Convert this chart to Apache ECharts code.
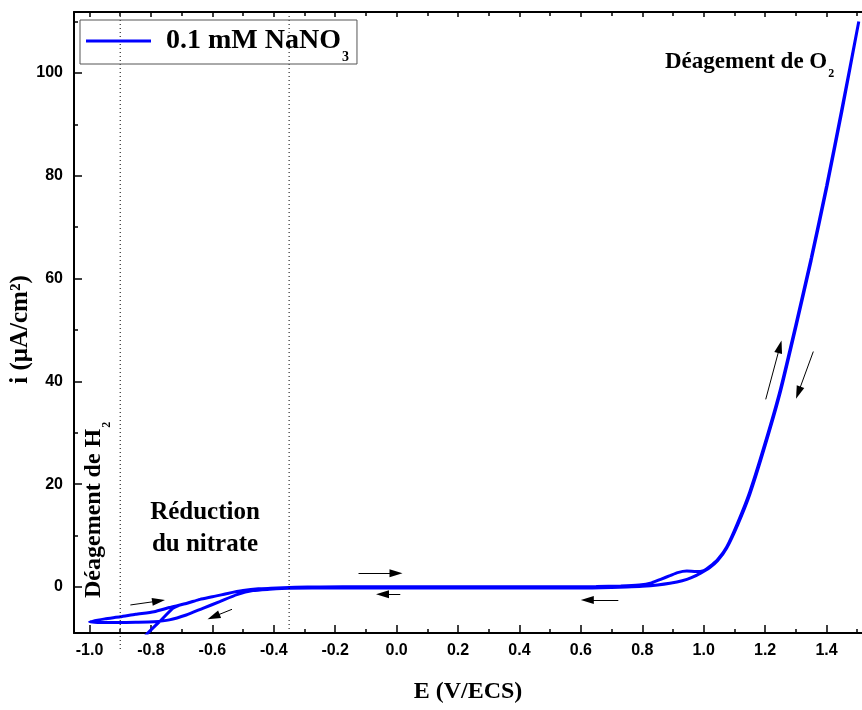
<!DOCTYPE html>
<html>
<head>
<meta charset="utf-8">
<script src="https://cdn.jsdelivr.net/npm/echarts@6/dist/echarts.min.js"></script>
<style>
  html, body { margin: 0; padding: 0; background: #fff; }
  #chart { width: 862px; height: 710px; }
</style>
</head>
<body>
<div id="chart"></div>
<script>
// Cyclic voltammogram, 0.1 mM NaNO3: potential E (V/ECS) vs current density i (µA/cm²)

// Tick positions
const xTicks = [-1.0, -0.8, -0.6, -0.4, -0.2, 0.0, 0.2, 0.4, 0.6, 0.8, 1.0, 1.2, 1.4];
const xMinorTicks = [-0.9, -0.7, -0.5, -0.3, -0.1, 0.1, 0.3, 0.5, 0.7, 0.9, 1.1, 1.3, 1.5];
const yTicks = [0, 20, 40, 60, 80, 100];
const yMinorTicks = [10, 30, 50, 70, 90, 110];

// First scan segment, entering from the cathodic side
const startE = [-0.83, -0.815, -0.772, -0.729, -0.71];
const startI = [-11.0, -9.3, -6.75, -4.15, -3.6];

// Anodic (forward) sweep
const anodicE = [-1.0, -0.95, -0.90, -0.85, -0.79, -0.74, -0.685, -0.64, -0.60, -0.55, -0.50, -0.45, -0.41, -0.33, -0.25, -0.10,
  0.10, 0.30, 0.50, 0.65, 0.73, 0.79, 0.83, 0.86, 0.89, 0.915, 0.945, 0.975, 1.0, 1.02, 1.045, 1.075, 1.11, 1.15, 1.20,
  1.25, 1.30, 1.35, 1.40, 1.45, 1.505];
const anodicI = [-6.75, -6.2, -5.8, -5.3, -4.8, -4.0, -3.2, -2.4, -1.9, -1.25, -0.7, -0.35, -0.25, -0.06, 0.0, 0.05,
  0.05, 0.05, 0.05, 0.1, 0.2, 0.4, 0.8, 1.5, 2.2, 2.8, 3.1, 3.0, 3.2, 4.0, 5.3, 7.8, 12.4, 18.5, 28.0,
  38.5, 51.0, 64.0, 78.0, 93.0, 110.0];

// Cathodic (reverse) sweep
const cathodicE = [1.505, 1.45, 1.40, 1.35, 1.30, 1.25, 1.20, 1.15, 1.11, 1.075, 1.045, 1.02, 0.99, 0.96, 0.93, 0.89, 0.85,
  0.80, 0.75, 0.70, 0.60, 0.40, 0.20, 0.0, -0.20, -0.35, -0.414, -0.468, -0.52, -0.576, -0.631, -0.685, -0.74, -0.79,
  -0.85, -0.90, -0.95, -1.0];
const cathodicI = [110.0, 92.5, 77.5, 63.5, 50.5, 38.0, 27.5, 18.0, 12.0, 7.6, 5.1, 3.8, 2.7, 1.8, 1.2, 0.72, 0.4,
  0.15, 0.0, -0.1, -0.2, -0.2, -0.2, -0.2, -0.2, -0.25, -0.45, -0.7, -1.5, -2.85, -4.15, -5.45, -6.4, -6.75,
  -6.85, -6.9, -6.9, -6.75];

// Dotted guide lines bounding the nitrate-reduction region (potential, lower end of the line)
const guideE = [-0.9, -0.35];
const guideLow = [-12.5, -8.95];

// Sweep-direction arrows: tail and head, in (E, i)
const arrowFrom = [[-0.867, -3.5], [-0.536, -4.34], [-0.124, 2.66], [0.012, -1.42], [0.722, -2.53], [1.202, 36.5], [1.357, 45.8]];
const arrowTo   = [[-0.775, -2.72], [-0.596, -5.78], [-0.002, 2.66], [-0.046, -1.42], [0.621, -2.53], [1.248, 46.75], [1.308, 37.8]];

const X_MIN = -1.0505, X_MAX = 1.5155, Y_MIN = -8.95, Y_MAX = 111.85;
const SERIF = '"Liberation Serif", "Times New Roman", serif';
const SANS = '"Liberation Sans", Arial, sans-serif';
const SERIES_NAME = '0.1 mM NaNO3';

const pairs = (xs, ys) => xs.map((x, i) => [x, ys[i]]);
// start segment joins the forward sweep, then reverse sweep, then a second forward sweep
const firstForward = pairs(anodicE, anodicI).filter(p => p[0] > startE[startE.length - 1]);
const cycleData = [].concat(pairs(startE, startI), firstForward, pairs(cathodicE, cathodicI), pairs(anodicE, anodicI));

function hAxis(position, ticks, len, showLine, showLabel) {
  return {
    type: 'value', min: X_MIN, max: X_MAX, position: position,
    axisLine: { show: showLine, onZero: false, lineStyle: { color: '#000', width: 2 } },
    axisTick: { show: true, inside: true, length: len, customValues: ticks, lineStyle: { color: '#000', width: 1.5 } },
    axisLabel: showLabel ? {
      customValues: ticks, margin: 10, color: '#000', fontFamily: SANS, fontWeight: 'bold', fontSize: 16,
      formatter: v => v.toFixed(1)
    } : { show: false },
    splitLine: { show: false }
  };
}
function vAxis(ticks, len, showLine, showLabel) {
  return {
    type: 'value', min: Y_MIN, max: Y_MAX, position: 'left',
    axisLine: { show: showLine, onZero: false, lineStyle: { color: '#000', width: 2 } },
    axisTick: { show: true, inside: true, length: len, customValues: ticks, lineStyle: { color: '#000', width: 1.5 } },
    axisLabel: showLabel ? {
      customValues: ticks, margin: 11, color: '#000', fontFamily: SANS, fontWeight: 'bold', fontSize: 16
    } : { show: false },
    splitLine: { show: false }
  };
}

const xBottom = hAxis('bottom', xTicks, 8, true, true);
xBottom.name = 'E (V/ECS)';
xBottom.nameLocation = 'middle';
xBottom.nameGap = 47;
xBottom.nameMoveOverlap = false;
xBottom.nameTextStyle = { fontFamily: SERIF, fontWeight: 'bold', fontSize: 24, color: '#000' };

const yLeft = vAxis(yTicks, 8, true, true);
yLeft.name = 'i (μA/cm²)';
yLeft.nameLocation = 'middle';
yLeft.nameGap = 41;
yLeft.nameMoveOverlap = false;
yLeft.nameTextStyle = { fontFamily: SERIF, fontWeight: 'bold', fontSize: 25, color: '#000', padding: [0, 14, 0, 0] };

// Guide lines are drawn as unclipped dotted line series so they can run past the axis
const guideSeries = guideE.map((e, i) => ({
  name: 'guide' + i, type: 'line', xAxisIndex: 0, yAxisIndex: 0, clip: false, silent: true,
  data: [[e, Y_MAX], [e, guideLow[i]]], symbol: 'none',
  lineStyle: { type: [1, 3], color: '#000', width: 1 }
}));

const chart = echarts.init(document.getElementById('chart'), null, { renderer: 'canvas' });
chart.setOption({
  animation: false,
  backgroundColor: '#fff',
  grid: { left: 74, right: 0, top: 12, bottom: 77, containLabel: false, outerBoundsMode: 'none' },
  xAxis: [
    xBottom,
    hAxis('bottom', xMinorTicks, 4, false, false),
    hAxis('top', xTicks, 5, true, false),
    hAxis('top', xMinorTicks, 4, false, false)
  ],
  yAxis: [
    yLeft,
    vAxis(yMinorTicks, 4, false, false)
  ],
  legend: {
    data: [{ name: SERIES_NAME, icon: 'rect' }],
    left: 80, top: 20,
    padding: [6, 8, 0, 6],
    borderColor: '#555', borderWidth: 1,
    itemWidth: 65, itemHeight: 3, itemGap: 0,
    selectedMode: false,
    formatter: () => '{m|0.1 mM NaNO}{s|3}',
    textStyle: {
      padding: [0, 0, 0, 10],
      rich: {
        m: { fontFamily: SERIF, fontWeight: 'bold', fontSize: 28, lineHeight: 30, color: '#000', verticalAlign: 'middle' },
        s: { fontFamily: SERIF, fontWeight: 'bold', fontSize: 14, lineHeight: 14, color: '#000', padding: [24, 0, 0, 1], verticalAlign: 'top' }
      }
    }
  },
  series: [
    {
      name: SERIES_NAME, type: 'line', xAxisIndex: 0, yAxisIndex: 0,
      data: cycleData, symbol: 'none', smooth: 0.2, clip: true,
      lineStyle: { color: '#0000ff', width: 3 }, itemStyle: { color: '#0000ff' }
    },
    ...guideSeries,
    {
      name: 'arrows', type: 'line', xAxisIndex: 0, yAxisIndex: 0, data: [], clip: false,
      markLine: {
        silent: true, symbol: ['none', 'triangle'], symbolSize: [8, 13], label: { show: false },
        lineStyle: { type: 'solid', color: '#000', width: 1 },
        itemStyle: { color: '#000' },
        data: arrowFrom.map((f, i) => [{ coord: f }, { coord: arrowTo[i] }])
      }
    }
  ],
  graphic: [
    {
      type: 'text', x: 665, y: 51,
      style: {
        text: '{m|Déagement de O}{s|2}', textVerticalAlign: 'top',
        rich: {
          m: { fontFamily: SERIF, fontWeight: 'bold', fontSize: 23, lineHeight: 24, fill: '#000', verticalAlign: 'top' },
          s: { fontFamily: SERIF, fontWeight: 'bold', fontSize: 12, lineHeight: 12, fill: '#000', padding: [17, 0, 0, 1], verticalAlign: 'top' }
        }
      }
    },
    {
      type: 'text', x: 205, y: 529,
      style: {
        text: 'Réduction\ndu nitrate', textAlign: 'center', textVerticalAlign: 'middle',
        fontFamily: SERIF, fontWeight: 'bold', fontSize: 25, lineHeight: 32, fill: '#000'
      }
    },
    {
      type: 'text', x: 81.5, y: 598, rotation: Math.PI / 2,
      style: {
        text: '{m|Déagement de H}{s|2}', textVerticalAlign: 'top',
        rich: {
          m: { fontFamily: SERIF, fontWeight: 'bold', fontSize: 24, lineHeight: 24, fill: '#000', verticalAlign: 'top' },
          s: { fontFamily: SERIF, fontWeight: 'bold', fontSize: 12, lineHeight: 12, fill: '#000', padding: [19, 0, 0, 1], verticalAlign: 'top' }
        }
      }
    }
  ]
});
</script>
</body>
</html>
